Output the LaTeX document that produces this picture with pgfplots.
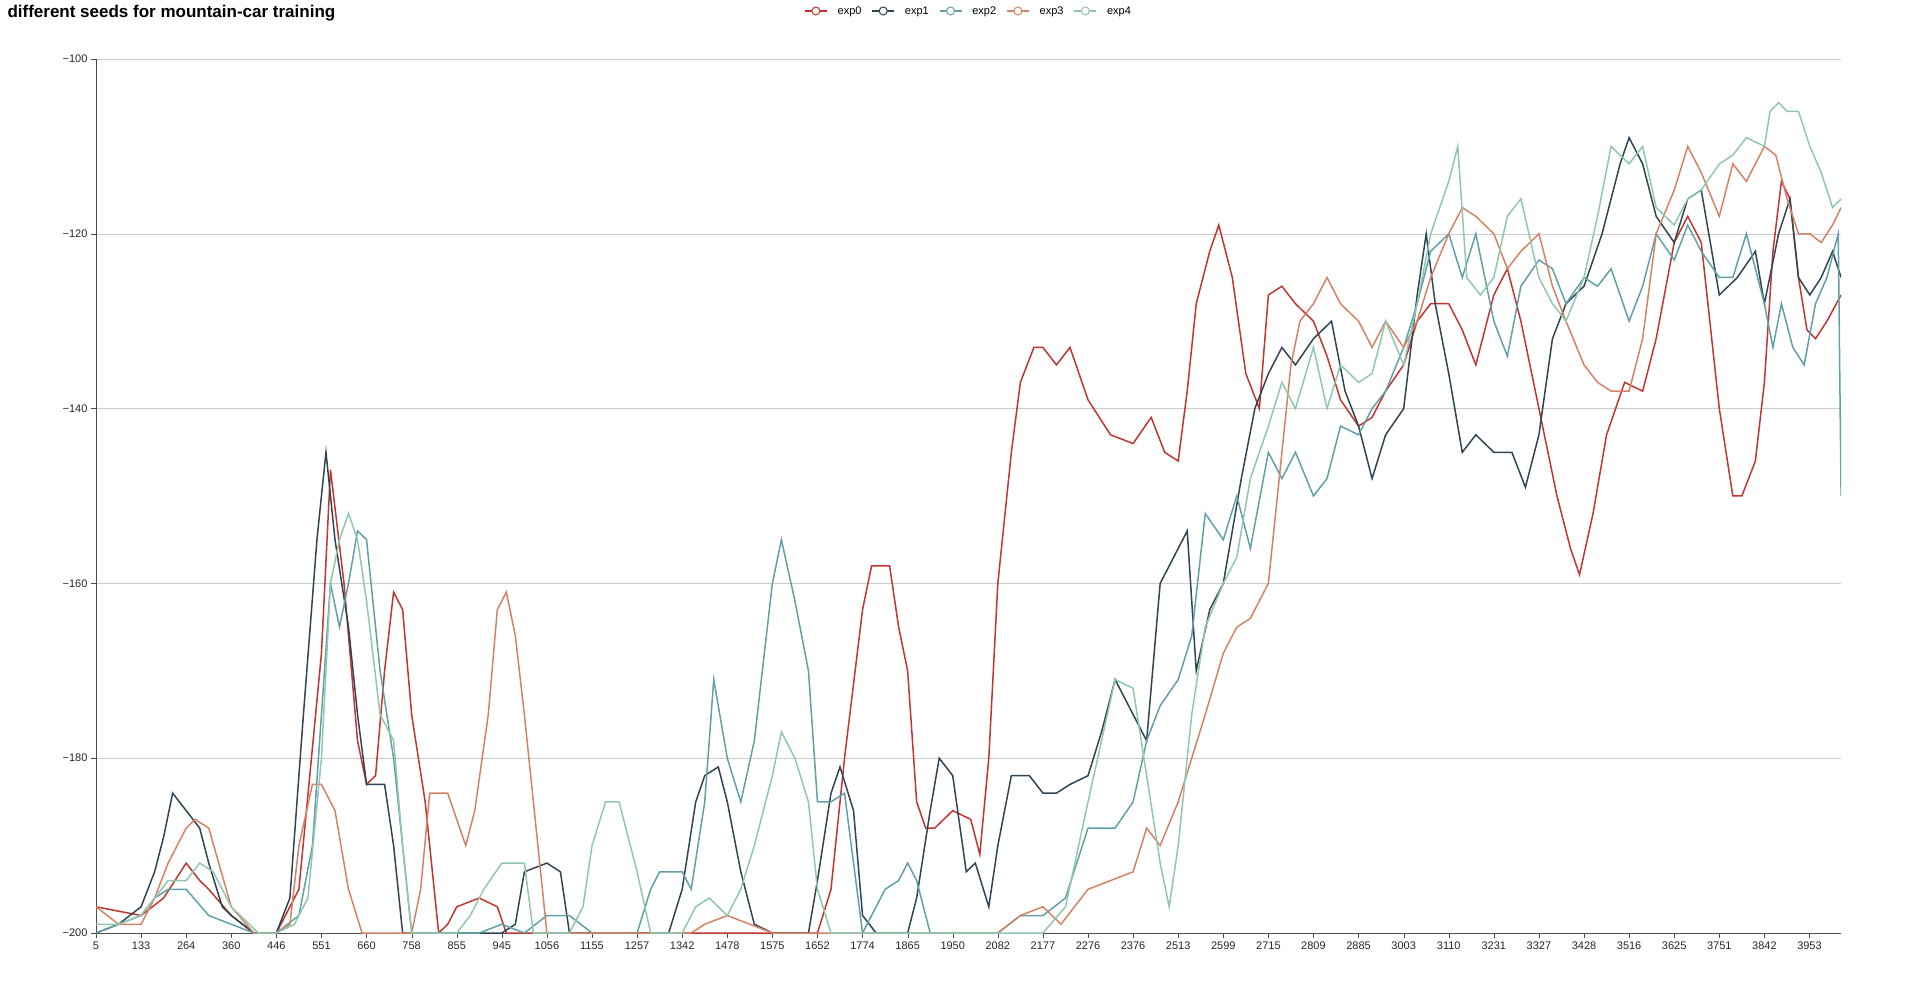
\documentclass[border=0pt]{standalone}
\usepackage{pgfplots}
\pgfplotsset{compat=1.18}
\usepackage{fontspec}
\setmainfont{Liberation Sans}
\definecolor{c0}{HTML}{C23531}
\definecolor{c1}{HTML}{2F4554}
\definecolor{c2}{HTML}{61A0A8}
\definecolor{c3}{HTML}{D48265}
\definecolor{c4}{HTML}{91C7AE}
\begin{document}
\begin{tikzpicture}
\path (0,0) rectangle (1919pt,983pt);
\node[anchor=north west,font=\bfseries\fontsize{17}{20}\selectfont] at (4pt,981pt) {different seeds for mountain-car training};
\begin{axis}[at={(96pt,50pt)}, anchor=south west, scale only axis,
 width=1745pt, height=874pt,
 xmin=0, xmax=38.7, ymin=-200, ymax=-100,
 x filter/.expression={x>37 ? 37+(x-37)*0.63 : x},
 xtick={0,...,38},
 xticklabels={5,133,264,360,446,551,660,758,855,945,1056,1155,1257,1342,1478,1575,1652,1774,1865,1950,2082,2177,2276,2376,2513,2599,2715,2809,2885,3003,3110,3231,3327,3428,3516,3625,3751,3842,3953},
 ytick={-200,-180,...,-100},
 yticklabels={−200,−180,−160,−140,−120,−100},
 axis x line*=bottom, axis y line*=left,
 axis line style={-,black!70},
 ymajorgrids, grid style={black!20},
 tick style={black!70}, tick align=outside, major tick length=5pt,
 ticklabel style={font=\fontsize{11}{13}\selectfont, text=black!85},
 every axis plot/.style={line width=1.5pt, no marks},
 legend columns=5,
 legend style={at={(0.5,1)}, anchor=center, yshift=48pt, draw=none, font=\fontsize{11}{13}\selectfont, column sep=8pt},
 legend image code/.code={\draw[#1] (0pt,0pt) -- (22pt,0pt); \draw[#1,fill=white,line width=1pt] (11pt,0pt) circle (4pt);},
]
\addplot[c0] coordinates {(0,-197)(1,-198)(1.5,-196)(2,-192)(2.3,-194)(2.5,-195)(3,-198)(3.5,-200)(4,-200)(4.5,-195)(5,-168)(5.2,-147)(5.5,-160)(5.8,-178)(6,-183)(6.2,-182)(6.4,-170)(6.6,-161)(6.8,-163)(7,-175)(7.3,-185)(7.6,-200)(7.8,-199)(8,-197)(8.5,-196)(8.9,-197)(9.1,-200)(16,-200)(16.3,-195)(16.6,-180)(17,-163)(17.2,-158)(17.6,-158)(17.8,-165)(18,-170)(18.2,-185)(18.4,-188)(18.6,-188)(19,-186)(19.4,-187)(19.6,-191)(19.8,-180)(20,-160)(20.3,-145)(20.5,-137)(20.8,-133)(21,-133)(21.3,-135)(21.6,-133)(21.8,-136)(22,-139)(22.5,-143)(23,-144)(23.4,-141)(23.7,-145)(24,-146)(24.2,-138)(24.4,-128)(24.7,-122)(24.9,-119)(25.2,-125)(25.5,-136)(25.8,-140)(26,-127)(26.3,-126)(26.6,-128)(27,-130)(27.3,-134)(27.6,-139)(28,-142)(28.3,-141)(28.6,-138)(29,-135)(29.3,-130)(29.6,-128)(30,-128)(30.3,-131)(30.6,-135)(31,-127)(31.3,-124)(31.6,-130)(32,-140)(32.4,-150)(32.7,-156)(32.9,-159)(33.2,-152)(33.5,-143)(33.9,-137)(34.3,-138)(34.6,-132)(35,-121)(35.3,-118)(35.6,-121)(36,-140)(36.3,-150)(36.5,-150)(36.8,-146)(37,-137)(37.3,-122)(37.6,-114)(37.9,-116)(38.2,-125)(38.5,-131)(38.8,-132)(39.2,-130)(39.7,-127)};
\addplot[c1] coordinates {(0,-200)(0.5,-199)(1,-197)(1.3,-193)(1.5,-189)(1.7,-184)(2,-186)(2.3,-188)(2.5,-192)(2.8,-197)(3,-198)(3.5,-200)(4,-200)(4.3,-196)(4.6,-175)(4.9,-155)(5.1,-145)(5.3,-155)(5.6,-165)(5.8,-175)(6,-183)(6.4,-183)(6.6,-190)(6.8,-200)(9,-200)(9.3,-199)(9.5,-193)(10,-192)(10.3,-193)(10.5,-200)(12.7,-200)(13,-195)(13.3,-185)(13.5,-182)(13.8,-181)(14,-185)(14.3,-193)(14.6,-199)(15,-200)(15.8,-200)(16,-194)(16.3,-184)(16.5,-181)(16.8,-186)(17,-198)(17.3,-200)(18,-200)(18.2,-196)(18.5,-186)(18.7,-180)(19,-182)(19.3,-193)(19.5,-192)(19.8,-197)(20,-190)(20.3,-182)(20.7,-182)(21,-184)(21.3,-184)(21.6,-183)(22,-182)(22.3,-177)(22.6,-171)(23,-175)(23.3,-178)(23.6,-160)(24,-156)(24.2,-154)(24.4,-170)(24.7,-163)(25,-160)(25.4,-148)(25.7,-140)(26,-136)(26.3,-133)(26.6,-135)(27,-132)(27.4,-130)(27.7,-138)(28,-142)(28.3,-148)(28.6,-143)(29,-140)(29.3,-127)(29.5,-120)(29.7,-128)(30,-136)(30.3,-145)(30.6,-143)(31,-145)(31.4,-145)(31.7,-149)(32,-143)(32.3,-132)(32.6,-128)(33,-126)(33.4,-120)(33.8,-112)(34,-109)(34.3,-112)(34.6,-118)(35,-121)(35.3,-116)(35.6,-115)(36,-127)(36.4,-125)(36.8,-122)(37,-128)(37.5,-120)(37.9,-116)(38.2,-125)(38.6,-127)(39,-125)(39.4,-122)(39.7,-125)};
\addplot[c2] coordinates {(0,-200)(0.5,-199)(1,-198)(1.3,-196)(1.6,-195)(2,-195)(2.5,-198)(3,-199)(3.5,-200)(4,-200)(4.5,-198)(4.8,-190)(5,-175)(5.2,-160)(5.4,-165)(5.6,-160)(5.8,-154)(6,-155)(6.3,-170)(6.6,-180)(6.8,-190)(7,-200)(8.5,-200)(9,-199)(9.5,-200)(10,-198)(10.5,-198)(11,-200)(12,-200)(12.3,-195)(12.5,-193)(13,-193)(13.2,-195)(13.5,-185)(13.7,-171)(14,-180)(14.3,-185)(14.6,-178)(15,-160)(15.2,-155)(15.5,-162)(15.8,-170)(16,-185)(16.3,-185)(16.6,-184)(17,-200)(17.5,-195)(17.8,-194)(18,-192)(18.2,-194)(18.5,-200)(20,-200)(20.5,-198)(21,-198)(21.5,-196)(22,-188)(22.3,-188)(22.6,-188)(23,-185)(23.3,-178)(23.6,-174)(24,-171)(24.3,-166)(24.6,-152)(25,-155)(25.3,-150)(25.6,-156)(26,-145)(26.3,-148)(26.6,-145)(27,-150)(27.3,-148)(27.6,-142)(28,-143)(28.3,-140)(28.6,-138)(29,-133)(29.3,-128)(29.6,-122)(30,-120)(30.3,-125)(30.6,-120)(31,-130)(31.3,-134)(31.6,-126)(32,-123)(32.3,-124)(32.6,-128)(33,-125)(33.3,-126)(33.6,-124)(34,-130)(34.3,-126)(34.6,-120)(35,-123)(35.3,-119)(35.6,-122)(36,-125)(36.3,-125)(36.6,-120)(37,-128)(37.3,-133)(37.6,-128)(38,-133)(38.4,-135)(38.8,-128)(39.2,-125)(39.6,-120)(39.7,-150)};
\addplot[c3] coordinates {(0,-197)(0.5,-199)(1,-199)(1.3,-196)(1.6,-192)(2,-188)(2.2,-187)(2.5,-188)(3,-197)(3.5,-200)(4,-200)(4.3,-199)(4.5,-190)(4.8,-183)(5,-183)(5.3,-186)(5.6,-195)(5.9,-200)(7,-200)(7.2,-195)(7.4,-184)(7.8,-184)(8,-187)(8.2,-190)(8.4,-186)(8.7,-175)(8.9,-163)(9.1,-161)(9.3,-166)(9.5,-175)(9.8,-190)(10,-200)(13.2,-200)(13.5,-199)(14,-198)(14.5,-199)(15,-200)(20,-200)(20.5,-198)(21,-197)(21.4,-199)(22,-195)(22.5,-194)(23,-193)(23.3,-188)(23.6,-190)(24,-185)(24.3,-180)(24.6,-175)(25,-168)(25.3,-165)(25.6,-164)(26,-160)(26.3,-145)(26.5,-135)(26.7,-130)(27,-128)(27.3,-125)(27.6,-128)(28,-130)(28.3,-133)(28.6,-130)(29,-133)(29.3,-130)(29.6,-125)(30,-120)(30.3,-117)(30.6,-118)(31,-120)(31.3,-124)(31.6,-122)(32,-120)(32.3,-126)(32.6,-130)(33,-135)(33.3,-137)(33.6,-138)(34,-138)(34.3,-132)(34.6,-120)(35,-115)(35.3,-110)(35.6,-113)(36,-118)(36.3,-112)(36.6,-114)(37,-110)(37.4,-111)(37.8,-116)(38.2,-120)(38.6,-120)(39,-121)(39.4,-119)(39.7,-117)};
\addplot[c4] coordinates {(0,-199)(0.5,-199)(1,-198)(1.3,-196)(1.6,-194)(2,-194)(2.3,-192)(2.6,-193)(3,-197)(3.4,-199)(3.6,-200)(4,-200)(4.4,-199)(4.7,-196)(5,-180)(5.2,-160)(5.4,-155)(5.6,-152)(5.8,-155)(6,-162)(6.3,-175)(6.6,-178)(6.8,-190)(7,-200)(8,-200)(8.3,-198)(8.6,-195)(9,-192)(9.5,-192)(9.7,-200)(10.5,-200)(10.8,-197)(11,-190)(11.3,-185)(11.6,-185)(12,-193)(12.3,-200)(13,-200)(13.3,-197)(13.6,-196)(14,-198)(14.3,-195)(14.6,-190)(15,-182)(15.2,-177)(15.5,-180)(15.8,-185)(16,-195)(16.3,-200)(21,-200)(21.5,-197)(22,-185)(22.3,-178)(22.6,-171)(23,-172)(23.3,-182)(23.6,-192)(23.8,-197)(24,-190)(24.3,-175)(24.6,-165)(25,-160)(25.3,-157)(25.6,-148)(26,-142)(26.3,-137)(26.6,-140)(27,-133)(27.3,-140)(27.6,-135)(28,-137)(28.3,-136)(28.6,-130)(29,-135)(29.3,-128)(29.6,-120)(30,-114)(30.2,-110)(30.4,-125)(30.7,-127)(31,-125)(31.3,-118)(31.6,-116)(32,-125)(32.3,-128)(32.6,-130)(33,-125)(33.3,-118)(33.6,-110)(34,-112)(34.3,-110)(34.6,-117)(35,-119)(35.3,-116)(35.6,-115)(36,-112)(36.3,-111)(36.6,-109)(37,-110)(37.2,-106)(37.5,-105)(37.8,-106)(38.2,-106)(38.6,-110)(39,-113)(39.4,-117)(39.7,-116)};
\legend{exp0,exp1,exp2,exp3,exp4}
\end{axis}
\end{tikzpicture}
\end{document}
